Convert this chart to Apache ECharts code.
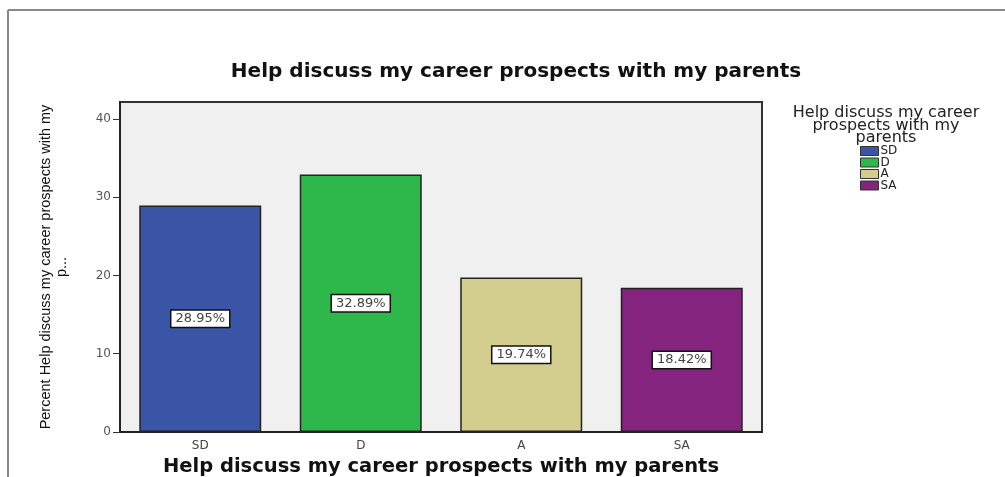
<!DOCTYPE html>
<html>
<head>
<meta charset="utf-8">
<script src="https://cdn.jsdelivr.net/npm/echarts@6/dist/echarts.min.js"></script>
<style>html,body{margin:0;padding:0;background:#fff}#c{width:1005px;height:477px}</style>
</head>
<body>
<div id="c"></div>
<script>
var categories = ['SD', 'D', 'A', 'SA'];
var percents = [28.95, 32.89, 19.74, 18.42];
var yTicks = [0, 10, 20, 30, 40];
var chartTitle = 'Help discuss my career prospects with my parents';
var legendTitle = 'Help discuss my career\nprospects with my\nparents';
var yName = 'Percent Help discuss my career prospects with my\np...';
var xName = 'Help discuss my career prospects with my parents';
var colors = ['#3a55a6', '#2eb84b', '#d3cd8e', '#84247f'];

var chart = echarts.init(document.getElementById('c'), null, {renderer: 'canvas'});
var series = categories.map(function (c, i) {
  return {
    name: c, type: 'bar', stack: 's', barWidth: '76%',
    itemStyle: {color: colors[i], borderColor: '#222', borderWidth: 1.5},
    label: {
      show: true, position: 'inside',
      formatter: function (p) { return p.value.toFixed(2) + '%'; },
      backgroundColor: '#fff', borderColor: '#111', borderWidth: 1.5,
      padding: [2, 4, 1, 4], color: '#444', fontFamily: 'DejaVu Sans', fontSize: 13
    },
    data: categories.map(function (_, j) { return j === i ? percents[i] : '-'; })
  };
});
chart.setOption({
  animation: false,
  backgroundColor: '#fff',
  title: [
    {text: chartTitle, left: 511, top: 57, textAlign: 'center',
     textStyle: {fontFamily: 'DejaVu Sans', fontWeight: 'bold', fontSize: 20, color: '#111'}},
    {text: legendTitle, left: 881, top: 102, textAlign: 'center',
     textStyle: {fontFamily: 'DejaVu Sans', fontWeight: 'normal', fontSize: 16, lineHeight: 12.5, color: '#222'}}
  ],
  legend: {
    orient: 'vertical', left: 855, top: 140, itemWidth: 18, itemHeight: 9, itemGap: -0.5,
    icon: 'rect',
    itemStyle: {borderColor: '#333', borderWidth: 1},
    textStyle: {fontFamily: 'DejaVu Sans', fontSize: 12, lineHeight: 9, color: '#222', padding: [0, 0, 0, -3]},
    data: categories
  },
  grid: {left: 120, right: 243, top: 102, bottom: 45, show: true, outerBoundsMode: 'none', containLabel: false,
         backgroundColor: '#f0f0f0', borderColor: '#333', borderWidth: 2},
  xAxis: {
    type: 'category', data: categories,
    name: xName, nameLocation: 'middle', nameGap: 23,
    nameTextStyle: {fontFamily: 'DejaVu Sans', fontWeight: 'bold', fontSize: 19.5, color: '#111'},
    axisLine: {lineStyle: {color: '#222', width: 2}},
    axisTick: {alignWithLabel: true, length: 5, lineStyle: {color: '#333'}},
    axisLabel: {fontFamily: 'DejaVu Sans', fontSize: 12, color: '#444', margin: 8}
  },
  yAxis: {
    type: 'value', min: 0, max: 42.17,
    splitLine: {show: false},
    name: yName, nameLocation: 'middle', nameGap: 50, nameRotate: 90,
    nameTextStyle: {fontFamily: 'Liberation Sans', fontSize: 14.5, color: '#111', lineHeight: 16},
    axisLine: {show: true, lineStyle: {color: '#222', width: 2}},
    axisTick: {show: true, length: 7, customValues: yTicks, lineStyle: {color: '#333'}},
    axisLabel: {customValues: yTicks, fontFamily: 'DejaVu Sans', fontSize: 12, color: '#555', margin: 9}
  },
  graphic: [
    {type: 'line', shape: {x1: 8, y1: 10, x2: 1005, y2: 10}, style: {stroke: '#888', lineWidth: 2}},
    {type: 'line', shape: {x1: 8, y1: 10, x2: 8, y2: 477}, style: {stroke: '#888', lineWidth: 2}}
  ],
  series: series
});
</script>
</body>
</html>
